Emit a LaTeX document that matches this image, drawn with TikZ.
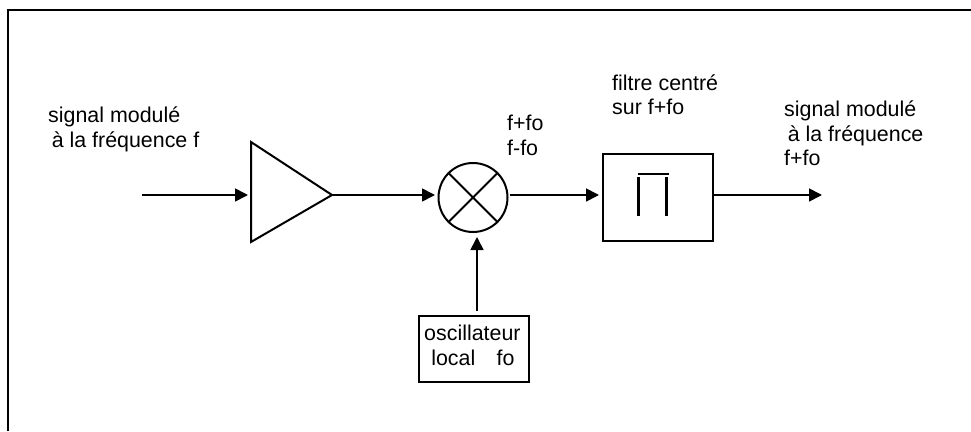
\documentclass[tikz,border=0pt]{standalone}
\usepackage{fontspec}
\setmainfont{Liberation Sans}
\usetikzlibrary{arrows.meta}
\tikzset{
 x=1pt,y=-1pt,
 wire/.style={line width=1.7pt,-{Triangle[length=13pt,width=13pt]}},
 plain/.style={line width=2pt},
 boxnode/.style={draw,line width=2pt,inner sep=0pt,anchor=north west},
 lbl/.style={anchor=north west,inner sep=0pt,align=left,font=\fontsize{21.4}{24.5}\selectfont},
}
\begin{document}
\begin{tikzpicture}
\useasboundingbox (0,0) rectangle (971,431);
\draw[line width=2.6pt] (8,431) -- (8,10) -- (971,10);
\node[lbl] (t1) at (48,107) {signal modulé\\ \,à la fréquence f};
\node[lbl] (t2) at (507,115) {f+fo\\f-fo};
\node[lbl] (t3) at (612,74.5) {filtre centré\\sur f+fo};
\node[lbl] (t4) at (784,101) {signal modulé\\ \,à la fréquence\\f+fo};
\coordinate (in) at (142,195);
\coordinate (amp) at (248,195);
\coordinate (ampo) at (332,195);
\draw[plain] (251,142) -- (ampo) -- (251,242) -- cycle;
\node[draw,circle,line width=2pt,minimum size=69pt,inner sep=0pt] (mix) at (473,197.5) {};
\draw[plain] (mix.45) -- (mix.225) (mix.135) -- (mix.315);
\coordinate (mixin) at (435,195);
\coordinate (mixout) at (510,195);
\node[boxnode,minimum width=110pt,minimum height=87pt] (fil) at (602,153) {};
\coordinate (filin) at (599,195);
\coordinate (filout) at (713,195);
\draw[line width=2.4pt] (638.5,177) -- (638.5,216) (666.5,177) -- (666.5,216) (638,174) -- (669,174);
\coordinate (out) at (822,195);
\node[boxnode,minimum width=110pt,minimum height=66pt] (osc) at (418,315) {};
\node[lbl] (t5) at (424,325) {oscillateur\\\,\,local\ \ \ \,fo};
\coordinate (mixb) at (477,237);
\coordinate (oscb) at (477,311);
\draw[wire] (in) -- (amp);
\draw[wire] (ampo) -- (mixin);
\draw[wire] (mixout) -- (filin);
\draw[wire] (filout) -- (out);
\draw[wire] (oscb) -- (mixb);
\end{tikzpicture}
\end{document}
